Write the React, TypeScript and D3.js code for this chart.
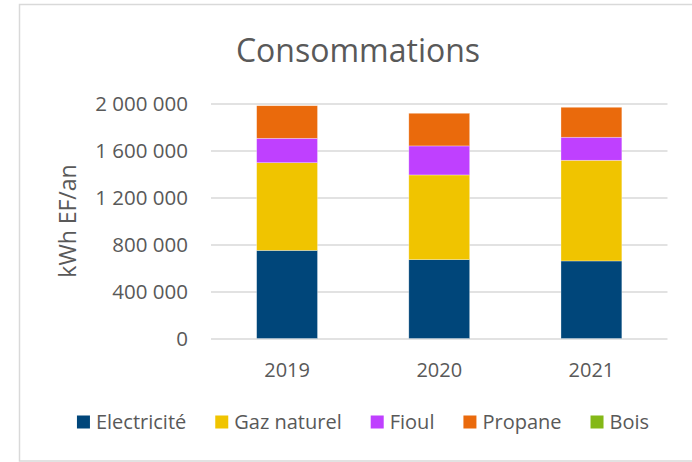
import { useEffect, useRef } from 'react';
import * as d3 from 'd3';

const WIDTH = 692;
const HEIGHT = 462;
const MARGIN = { top: 103.5, right: 24.5, bottom: 123.5, left: 211 };

const years = ['2019', '2020', '2021'];
const series = ['Electricité', 'Gaz naturel', 'Fioul', 'Propane', 'Bois'];
const colors = ['#00467a', '#f0c400', '#bf40ff', '#ea6a0c', '#84b817'];

// kWh EF/an
const electricite = [750000, 671000, 660000];
const gazNaturel = [746000, 721000, 857000];
const fioul = [208000, 247000, 196000];
const propane = [277000, 278000, 255000];
const bois = [0, 0, 0];

const yTicks = [0, 400000, 800000, 1200000, 1600000, 2000000];

const FONT = "'Open Sans', sans-serif";
const TEXT = '#595959';
const GRID = '#d9d9d9';

type Row = { year: string; [k: string]: number | string };

const rows: Row[] = years.map((year, i) => ({
  year,
  'Electricité': electricite[i],
  'Gaz naturel': gazNaturel[i],
  'Fioul': fioul[i],
  'Propane': propane[i],
  'Bois': bois[i],
}));

const fr = d3.formatLocale({
  decimal: ',',
  thousands: '\u00a0',
  grouping: [3],
  currency: ['', ' €'],
});

export default function App() {
  const svgRef = useRef<SVGSVGElement>(null);

  useEffect(() => {
    const svg = d3.select(svgRef.current);
    svg.selectAll('*').remove();

    const boundsWidth = WIDTH - MARGIN.left - MARGIN.right;
    const boundsHeight = HEIGHT - MARGIN.top - MARGIN.bottom;

    const x = d3
      .scaleBand()
      .domain(years)
      .range([0, boundsWidth])
      .paddingInner(0.6)
      .paddingOuter(0.3);
    const y = d3.scaleLinear().domain([0, 2000000]).range([boundsHeight, 0]);
    const color = d3.scaleOrdinal<string>().domain(series).range(colors);

    // chart frame
    svg
      .append('rect')
      .attr('x', 19.5)
      .attr('y', 4.5)
      .attr('width', WIDTH)
      .attr('height', 456.5)
      .attr('fill', '#fff')
      .attr('stroke', GRID)
      .attr('stroke-width', 1.5);

    svg
      .append('text')
      .attr('x', 358)
      .attr('y', 62)
      .attr('text-anchor', 'middle')
      .attr('font-family', FONT)
      .attr('font-size', 32)
      .attr('fill', TEXT)
      .text('Consommations');

    const g = svg
      .append('g')
      .attr('transform', `translate(${MARGIN.left},${MARGIN.top})`);

    // y axis + gridlines
    g.append('g')
      .call(
        d3
          .axisLeft(y)
          .tickValues(yTicks)
          .tickSize(-boundsWidth)
          .tickPadding(23)
          .tickFormat((d) => fr.format(',')(d as number))
      )
      .call((a) => a.select('.domain').remove())
      .call((a) =>
        a.selectAll('.tick line').attr('stroke', GRID).attr('stroke-width', 1.3)
      )
      .call((a) =>
        a
          .selectAll('.tick text')
          .attr('fill', TEXT)
          .attr('font-family', FONT)
          .attr('font-size', 20.5)
      );

    // stacked bars
    const stacked = d3.stack<Row>().keys(series)(rows);
    g.append('g')
      .selectAll('g')
      .data(stacked)
      .join('g')
      .attr('fill', (d) => color(d.key))
      .selectAll('rect')
      .data((d) => d)
      .join('rect')
      .attr('x', (d) => x(d.data.year as string)!)
      .attr('y', (d) => y(d[1]))
      .attr('width', x.bandwidth())
      .attr('height', (d) => y(d[0]) - y(d[1]))
      .attr('stroke', '#fff')
      .attr('stroke-opacity', 0.5)
      .attr('stroke-width', 0.6);

    // x axis labels
    g.append('g')
      .attr('transform', `translate(0,${boundsHeight})`)
      .call(d3.axisBottom(x).tickSize(0).tickPadding(24))
      .call((a) => a.select('.domain').remove())
      .call((a) =>
        a
          .selectAll('.tick text')
          .attr('fill', TEXT)
          .attr('font-family', FONT)
          .attr('font-size', 20)
      );

    // y axis title
    svg
      .append('text')
      .attr('transform', `translate(76,221) rotate(-90)`)
      .attr('text-anchor', 'middle')
      .attr('font-family', FONT)
      .attr('font-size', 23)
      .attr('fill', TEXT)
      .text('kWh EF/an');

    // legend, laid out from measured text widths
    const legend = svg.append('g').attr('transform', 'translate(0,422)');
    const items = legend
      .selectAll('g')
      .data(series)
      .join('g');
    items
      .append('rect')
      .attr('y', -6.5)
      .attr('width', 13)
      .attr('height', 13)
      .attr('fill', (d) => color(d));
    items
      .append('text')
      .attr('x', 19)
      .attr('y', 7)
      .attr('font-family', FONT)
      .attr('font-size', 20)
      .attr('fill', TEXT)
      .text((d) => d);

    const widths = items
      .select('text')
      .nodes()
      .map((n) => (n as SVGTextElement).getComputedTextLength() + 19);
    const gap = 29;
    const total = d3.sum(widths) + gap * (widths.length - 1);
    let cx = 363 - total / 2;
    items.attr('transform', (_, i) => {
      const t = `translate(${cx},0)`;
      cx += widths[i] + gap;
      return t;
    });
  }, []);

  return (
    <svg
      ref={svgRef}
      width={WIDTH}
      height={HEIGHT}
      style={{ position: 'absolute', left: 0, top: 0, background: '#fff' }}
    />
  );
}
